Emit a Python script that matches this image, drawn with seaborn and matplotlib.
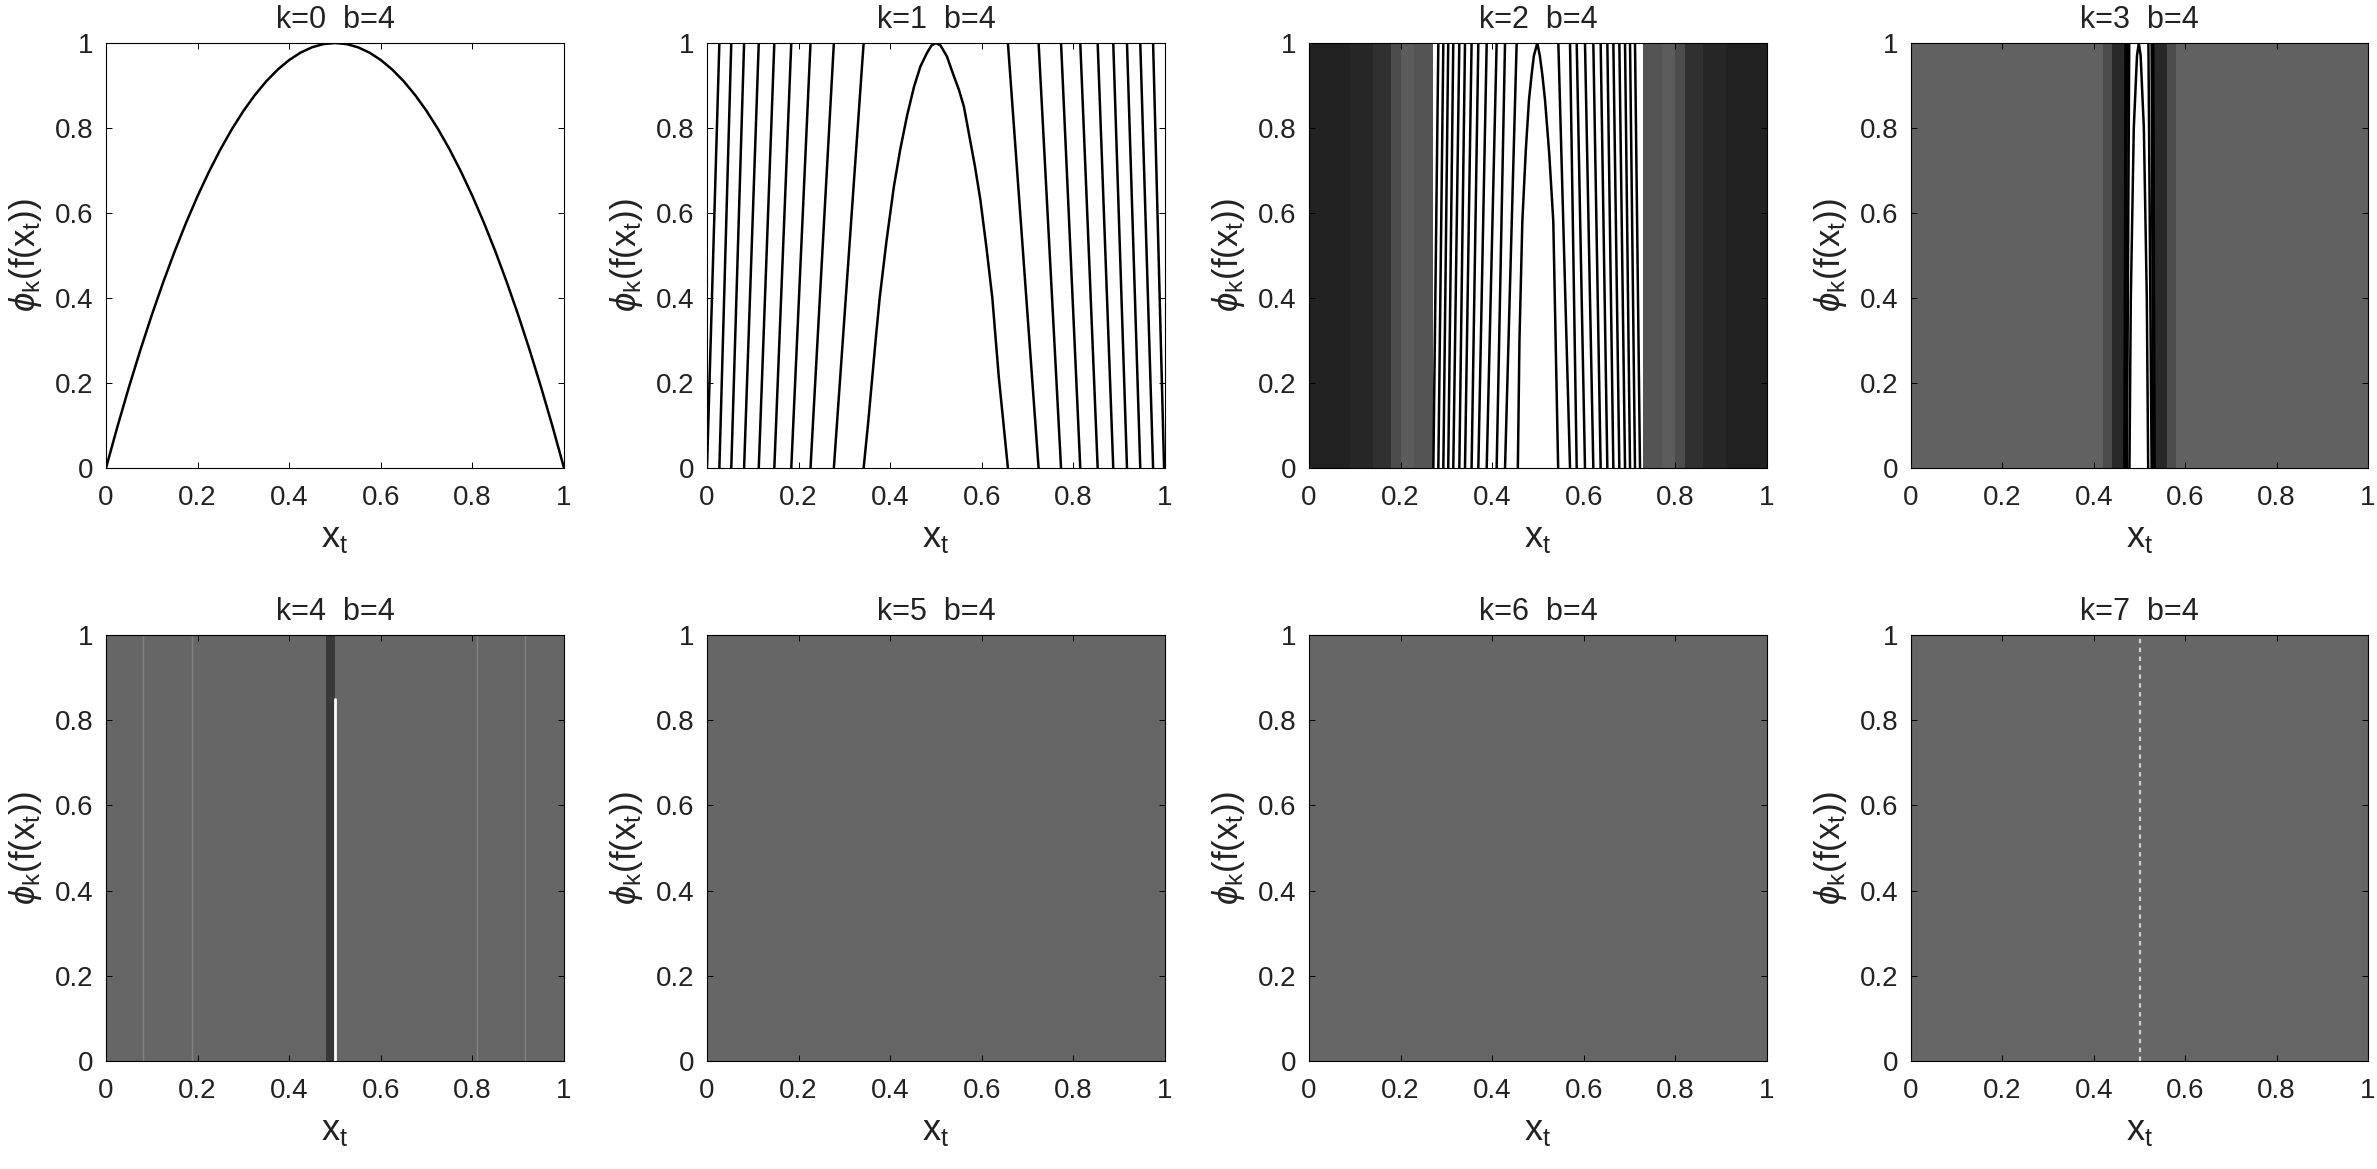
import numpy as np
import pandas as pd
import matplotlib
matplotlib.use("Agg")
import matplotlib.pyplot as plt
import seaborn as sns

# Values. Where single strokes cannot be resolved, the
# panel stores the estimated ink tone of each vertical band (0 black, 1 white),
# as band tones and band widths in units of 0.01 of the x axis.
titles = ["k=0  b=4", "k=1  b=4", "k=2  b=4", "k=3  b=4",
          "k=4  b=4", "k=5  b=4", "k=6  b=4", "k=7  b=4"]
tick_values = [0, 0.2, 0.4, 0.6, 0.8, 1]
tick_labels = ["0", "0.2", "0.4", "0.6", "0.8", "1"]

k0_x = [0, .025, .05, .075, .1, .125, .15, .175, .2, .225, .25, .275, .3, .325, .35, .375, .4, .425,
        .45, .475, .5, .525, .55, .575, .6, .625, .65, .675, .7, .725, .75, .775, .8, .825, .85,
        .875, .9, .925, .95, .975, 1]
k0_y = [0, .0975, .19, .2775, .36, .4375, .51, .5775, .64, .6975, .75, .7975, .84, .8775, .91, .9375,
        .96, .9775, .99, .9975, 1, .9975, .99, .9775, .96, .9375, .91, .8775, .84, .7975, .75,
        .6975, .64, .5775, .51, .4375, .36, .2775, .19, .0975, 0]

k1_left = [0, .027, .053, .081, .113, .147, .184, .226, .277, .342]
k1_right = [.657, .724, .773, .815, .853, .887, .917, .946, .974, .998]
k1_hump_x = [.342, .352, .361, .369, .377, .392, .408, .422, .437, .452, .466, .48, .49, .5,
             .51, .524, .538, .55, .561, .573, .585, .597, .61, .623, .637, .647, .657]
k1_hump_y = [0, .108, .215, .31, .4, .535, .662, .75, .83, .897, .945, .976, .994, 1,
             .994, .968, .925, .89, .85, .78, .71, .63, .52, .4, .215, .108, 0]

k2_left = [.2715, .2824, .2933, .304, .315, .3282, .3406, .355, .3697, .388, .4097, .428, .4534]
k2_right = [.5444, .5699, .5845, .6026, .6208, .6368, .6514, .6645, .6776, .69, .7009, .7118, .7227]
k2_hump_x = [.456, .4595, .4658, .4735, .4803, .486, .491, .4985, .504, .5095, .5153, .5245, .5334, .5385, .544]
k2_hump_y = [0, .3, .58, .75, .866, .925, .97, 1, .97, .925, .866, .74, .58, .3, 0]
k2_tones = [.13, .15, .19, .30, .36, .33, 1, .33, .36, .30, .19, .15, .13]
k2_widths = [9, 5, 4, 2, 3, 4, 46, 4, 3, 2, 4, 5, 9]

k3_left = [.467, .4695, .4725, .4775]
k3_right = [.5195, .5265, .53, .533]
k3_hump_x = [.478, .481, .4875, .4945, .4985, .5025, .5095, .516, .519]
k3_hump_y = [0, .4, .8, .97, 1, .97, .8, .4, 0]
k3_tones = [.38, .30, .16, 1, .16, .30, .38]
k3_widths = [42, 2, 3, 6, 3, 2, 42]

k4_tones = [.40, .22, .40]
k4_widths = [48, 2, 50]
k4_white_x = [.5, .5]
k4_white_y = [0, .85]
k4_faint_x = [.081, .187, .809, .915]

k5_tones = [.40]
k5_widths = [100]
k6_tones = [.40]
k6_widths = [100]
k7_tones = [.40]
k7_widths = [100]
k7_white_x = [.5, .5]
k7_white_y = [0, 1]

all_tones = [None, None, (k2_tones, k2_widths), (k3_tones, k3_widths),
             (k4_tones, k4_widths), (k5_tones, k5_widths),
             (k6_tones, k6_widths), (k7_tones, k7_widths)]

W, H = 2377, 1169
col_edges = [(106, 564), (707, 1165), (1309, 1767), (1911, 2368)]
row_edges = [(43, 468), (635, 1061)]

sns.set_theme(style="ticks")
plt.rcParams["font.family"] = ["Liberation Sans", "DejaVu Sans"]
plt.rcParams["mathtext.fontset"] = "custom"
plt.rcParams["mathtext.rm"] = "Liberation Sans"
plt.rcParams["mathtext.it"] = "Liberation Sans:italic"
plt.rcParams["mathtext.bf"] = "Liberation Sans:bold"

INK = "#222222"


def strokes(left, right, hump_x, hump_y):
    rows = []
    unit = 0
    for i in range(len(left) - 1):
        rows += [(left[i], 0, unit), (left[i + 1], 1, unit)]
        unit += 1
    for i in range(len(right) - 1):
        rows += [(right[i], 1, unit), (right[i + 1], 0, unit)]
        unit += 1
    for x, y in zip(hump_x, hump_y):
        rows.append((x, y, unit))
    return pd.DataFrame(rows, columns=["x", "y", "unit"])


frames = {
    0: pd.DataFrame({"x": k0_x, "y": k0_y, "unit": 0}),
    1: strokes(k1_left, k1_right, k1_hump_x, k1_hump_y),
    2: strokes(k2_left, k2_right, k2_hump_x, k2_hump_y),
    3: strokes(k3_left, k3_right, k3_hump_x, k3_hump_y),
}

fig = plt.figure(figsize=(W / 100, H / 100), dpi=100, facecolor="white")

for n, title in enumerate(titles):
    l, r = col_edges[n % 4]
    t, b = row_edges[n // 4]
    rect = [l / W, 1 - b / H, (r - l) / W, (b - t) / H]

    if all_tones[n] is not None:
        tones, widths = all_tones[n]
        hax = fig.add_axes(rect, zorder=1)
        sns.heatmap(np.array([np.repeat(tones, widths)]), ax=hax, cmap="gray",
                    vmin=0, vmax=1, cbar=False, xticklabels=False,
                    yticklabels=False)
        hax.set_axis_off()

    ax = fig.add_axes(rect, zorder=2)
    ax.patch.set_visible(False)

    if n in frames:
        sns.lineplot(data=frames[n], x="x", y="y", units="unit", estimator=None,
                     sort=False, color="black", linewidth=1.8, ax=ax, legend=False)
    if n == 4:
        sns.lineplot(x=k4_white_x, y=k4_white_y, estimator=None, sort=False,
                     color="white", linewidth=2, ax=ax, legend=False)
        for fx in k4_faint_x:
            sns.lineplot(x=[fx, fx], y=[0, 1], estimator=None, sort=False,
                         color="white", alpha=.18, linewidth=1, ax=ax, legend=False)
    if n == 7:
        sns.lineplot(x=k7_white_x, y=k7_white_y, estimator=None, sort=False,
                     color="white", alpha=.7, linewidth=1.6, linestyle=(0, (2, 2)),
                     ax=ax, legend=False)

    ax.set_xlim(0, 1)
    ax.set_ylim(0, 1)
    ax.set_xticks(tick_values, tick_labels)
    ax.set_yticks(tick_values, tick_labels)
    ax.tick_params(axis="both", direction="in", length=4, width=.7, top=True, right=True,
                   labelsize=20, labelcolor=INK, color="black")
    ax.tick_params(axis="x", pad=12)
    ax.tick_params(axis="y", pad=9)
    for s in ax.spines.values():
        s.set_visible(True)
        s.set_linewidth(.8)
        s.set_color("black")
    ax.set_title(title, fontsize=22, color=INK, pad=11)
    ax.set_xlabel(r"$\mathrm{x}_{\mathrm{t}}$", fontsize=26, color=INK, labelpad=7)
    ax.set_ylabel(r"$\phi_{\mathrm{k}}(\mathrm{f}(\mathrm{x}_{\mathrm{t}}))$",
                  fontsize=25, color=INK, labelpad=8)

fig.savefig("out.png", dpi=100, facecolor="white")
